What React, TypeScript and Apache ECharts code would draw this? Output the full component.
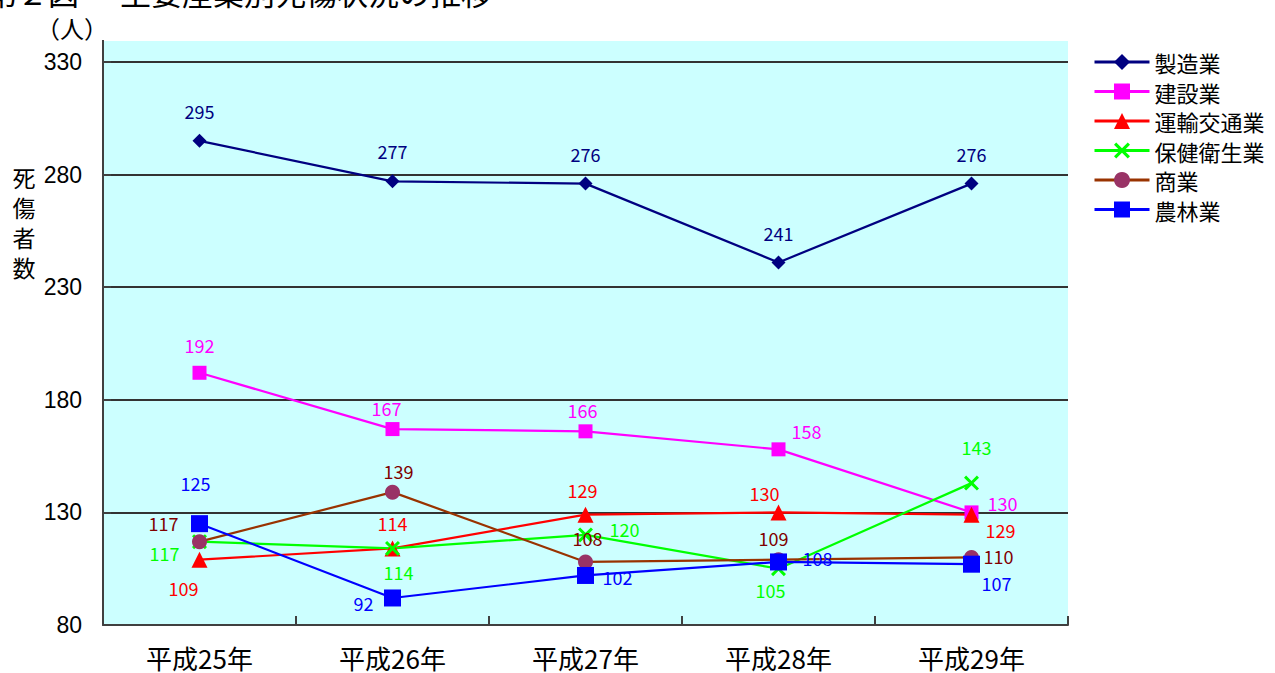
import React, { useEffect, useRef } from "react";
import * as echarts from "echarts";

const categories = ["平成25年", "平成26年", "平成27年", "平成28年", "平成29年"];
const seriesNames = ["製造業", "建設業", "運輸交通業", "保健衛生業", "商業", "農林業"];
const manufacturing = [295, 277, 276, 241, 276];
const construction = [192, 167, 166, 158, 130];
const transport = [109, 114, 129, 130, 129];
const health = [117, 114, 120, 105, 143];
const commerce = [117, 139, 108, 109, 110];
const agriculture = [125, 92, 102, 108, 107];
const yTicks = { min: 80, max: 330, interval: 50 };
const yAxisNameChars = ["死", "傷", "者", "数"];

// label centre offsets from each point (styling)
const labelOffsets: number[][][] = [
  [[0, -30], [0, -30], [0, -30], [0, -29], [0, -30]],
  [[0, -28], [-6, -21], [-3, -21], [28, -18], [31, -9]],
  [[-16, 28], [0, -25], [-3, -25], [-14, -19], [29, 15]],
  [[-35, 11], [6, 24], [39, -6], [-8, 21], [5, -36]],
  [[-36, -19], [6, -21], [2, -24], [-5, -22], [27, -1]],
  [[-4, -41], [-29, 5], [32, 2], [39, -4], [25, 19]],
];

const X_PATH = "path://M0,1.4L1.4,0L5,3.6L8.6,0L10,1.4L6.4,5L10,8.6L8.6,10L5,6.4L1.4,10L0,8.6L3.6,5Z";

const styles = [
  { line: "#000080", item: "#000080", label: "#000080", symbol: "diamond", size: 14 },
  { line: "#ff00ff", item: "#ff00ff", label: "#ff00ff", symbol: "rect", size: 14 },
  { line: "#ff0000", item: "#ff0000", label: "#ff0000", symbol: "triangle", size: 16 },
  { line: "#00ff00", item: "#00ff00", label: "#00ff00", symbol: X_PATH, size: 15 },
  { line: "#993300", item: "#993366", label: "#800000", symbol: "circle", size: 15 },
  { line: "#0000ff", item: "#0000ff", label: "#0000ff", symbol: "rect", size: 17 },
];

const allData = [manufacturing, construction, transport, health, commerce, agriculture];

export default function App() {
  const ref = useRef<HTMLDivElement>(null);
  useEffect(() => {
    if (!ref.current) return;
    const chart = echarts.init(ref.current, undefined, { renderer: "svg" });
    const cjk = "'Noto Sans CJK JP', 'Noto Sans', sans-serif";
    const series = allData.map((vals, si) => ({
      name: seriesNames[si],
      type: "line",
      symbol: styles[si].symbol,
      symbolSize: styles[si].size,
      lineStyle: { color: styles[si].line, width: 2.2 },
      itemStyle: { color: styles[si].item },
      data: vals.map((v, i) => ({
        value: v,
        label: {
          show: true,
          position: "inside",
          offset: labelOffsets[si][i],
          color: styles[si].label,
          fontSize: 18,
          fontFamily: cjk,
        },
      })),
    }));
    chart.setOption({
      animation: false,
      grid: {
        left: 103,
        right: 207,
        top: 62,
        bottom: 48,
        show: true,
        backgroundColor: "#ccffff",
        borderWidth: 0,
      },
      legend: {
        orient: "vertical",
        left: 1093,
        top: 51,
        padding: 0,
        itemWidth: 55,
        itemHeight: 20,
        itemGap: 7.5,
        lineStyle: { width: 3 },
        textStyle: { fontSize: 22, fontFamily: cjk, color: "#000" },
        data: seriesNames,
      },
      xAxis: {
        type: "category",
        data: categories,
        boundaryGap: true,
        axisLine: { lineStyle: { color: "#404040", width: 2 } },
        axisTick: { show: true, inside: true, length: 9, lineStyle: { color: "#404040", width: 2 } },
        axisLabel: { color: "#000", fontSize: 26, fontFamily: cjk, margin: 19 },
      },
      yAxis: {
        type: "value",
        min: yTicks.min,
        max: yTicks.max,
        interval: yTicks.interval,
        axisLine: { show: true, lineStyle: { color: "#404040", width: 2 } },
        axisTick: { show: true, inside: true, length: 8, lineStyle: { color: "#404040", width: 2 } },
        splitLine: { show: true, lineStyle: { color: "#333333", width: 2 } },
        axisLabel: { color: "#000", fontSize: 23, fontFamily: "'Liberation Sans', Arial, sans-serif", margin: 21 },
      },
      graphic: [
        { type: "rect", z: -1, shape: { x: 103, y: 41, width: 965, height: 21 }, style: { fill: "#ccffff" } },
        { type: "line", shape: { x1: 103, y1: 40, x2: 103, y2: 63 }, style: { stroke: "#404040", lineWidth: 2 } },
        { type: "text", x: 79, y: 7, style: { text: "第２図", font: "31px 'Noto Sans CJK JP'", fill: "#000", textAlign: "right", textVerticalAlign: "bottom" } },
        { type: "text", x: 120, y: 7, style: { text: "主要産業別死傷状況の推移", font: "31px 'Noto Sans CJK JP'", fill: "#000", textAlign: "left", textVerticalAlign: "bottom" } },
        { type: "text", x: 36, y: 27, style: { text: "（人）", font: "24px 'Noto Sans CJK JP'", fill: "#000", textAlign: "left", textVerticalAlign: "middle" } },
        ...yAxisNameChars.map((c, i) => ({
          type: "text",
          x: 24,
          y: 177 + i * 30,
          style: { text: c, font: "23px 'Noto Sans CJK JP'", fill: "#000", textAlign: "center", textVerticalAlign: "middle" },
        })),
      ],
      series,
    });
    return () => chart.dispose();
  }, []);
  return <div ref={ref} style={{ width: 1275, height: 673, position: "absolute", left: 0, top: 0 }} />;
}
